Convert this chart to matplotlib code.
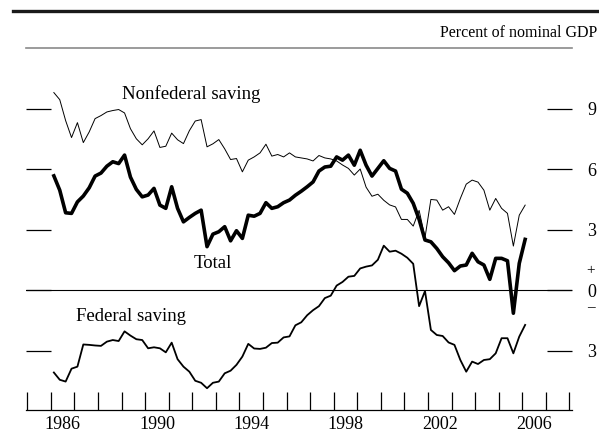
import numpy as np
import matplotlib
matplotlib.use("Agg")
import matplotlib.pyplot as plt
from matplotlib.lines import Line2D

plt.rcParams['font.family'] = ['Liberation Serif', 'DejaVu Serif']

# quarterly, 1986:Q1 - 2006:Q1, percent of nominal GDP
quarters = 1986.125 + 0.25 * np.arange(81)

nonfederal = [
    9.79, 9.44, 8.4, 7.56, 8.3, 7.31, 7.84, 8.5, 8.65, 8.83,
    8.9, 8.95, 8.78, 8.0, 7.5, 7.2, 7.5, 7.89, 7.07, 7.13,
    7.78, 7.45, 7.26, 7.9, 8.38, 8.45, 7.1, 7.25, 7.46, 7.0,
    6.47, 6.52, 5.86, 6.44, 6.6, 6.8, 7.23, 6.64, 6.72, 6.6,
    6.8, 6.6, 6.55, 6.5, 6.4, 6.67, 6.55, 6.5, 6.4, 6.2,
    6.03, 5.7, 6.0, 5.1, 4.65, 4.75, 4.45, 4.22, 4.12, 3.5,
    3.5, 3.17, 3.95, 2.6, 4.49, 4.46, 3.96, 4.13, 3.75, 4.54,
    5.25, 5.45, 5.35, 4.95, 3.96, 4.54, 4.05, 3.8, 2.18, 3.71,
    4.21,
]

total = [
    5.66, 4.95, 3.83, 3.8, 4.37, 4.66, 5.07, 5.65, 5.8, 6.14,
    6.36, 6.27, 6.69, 5.6, 4.99, 4.62, 4.71, 5.04, 4.21, 4.05,
    5.12, 4.05, 3.38, 3.6, 3.8, 3.96, 2.15, 2.77, 2.89, 3.14,
    2.44, 2.94, 2.56, 3.71, 3.66, 3.8, 4.33, 4.05, 4.13, 4.33,
    4.46, 4.7, 4.9, 5.12, 5.36, 5.9, 6.1, 6.14, 6.6, 6.44,
    6.69, 6.19, 6.93, 6.19, 5.65, 6.03, 6.41, 6.03, 5.9, 5.0,
    4.8, 4.3, 3.5, 2.48, 2.39, 2.06, 1.65, 1.35, 0.96, 1.19,
    1.24, 1.82, 1.4, 1.24, 0.53, 1.57, 1.57, 1.45, -1.15, 1.32,
    2.51,
]

federal = [
    -4.09, -4.45, -4.54, -3.9, -3.8, -2.7, -2.72, -2.75, -2.77, -2.56,
    -2.48, -2.53, -2.05, -2.26, -2.44, -2.48, -2.89, -2.84, -2.89, -3.09,
    -2.61, -3.43, -3.8, -4.05, -4.5, -4.6, -4.87, -4.6, -4.54, -4.13,
    -4.0, -3.71, -3.3, -2.67, -2.9, -2.92, -2.86, -2.63, -2.61, -2.35,
    -2.3, -1.75, -1.6, -1.25, -1.0, -0.8, -0.4, -0.28, 0.22, 0.4,
    0.66, 0.7, 1.07, 1.16, 1.22, 1.5, 2.2, 1.9, 1.95, 1.8,
    1.6, 1.3, -0.8, -0.05, -1.98, -2.23, -2.28, -2.6, -2.72, -3.47,
    -4.05, -3.55, -3.67, -3.47, -3.43, -3.14, -2.39, -2.39, -3.14, -2.31,
    -1.73,
]

year_labels = ['1986', '1990', '1994', '1998', '2002', '2006']
y_ticks = [-3, 0, 3, 6, 9]
y_tick_labels = ['3', '0', '3', '6', '9']

fig = plt.figure(figsize=(5.99, 4.33), dpi=100)
ax = fig.add_axes([0.0429, 0.0531, 0.9115, 0.836])

ax.axhline(0, color='black', lw=0.8, zorder=1)
ax.plot(quarters, nonfederal, color='black', lw=0.7, zorder=2)
ax.plot(quarters, federal, color='black', lw=1.3, zorder=3)
ax.plot(quarters, total, color='black', lw=2.6, zorder=4)

ax.set_xlim(1984.93, 2008.1)
ax.set_ylim(-5.95, 12)

for s in ['left', 'right']:
    ax.spines[s].set_visible(False)
ax.spines['top'].set_color('#8a8a8a')
ax.spines['top'].set_linewidth(1.2)
ax.spines['bottom'].set_linewidth(0.9)

# year marks at boundaries, labels centred in the year
ax.set_xticks(np.arange(1985, 2009), minor=True)
ax.set_xticks([int(y) + 0.5 for y in year_labels])
ax.set_xticklabels(year_labels)
ax.tick_params(axis='x', which='minor', direction='in', length=13, width=0.9,
               top=False, bottom=True)
ax.tick_params(axis='x', which='major', length=0, pad=4, labelsize=13)

ax.set_yticks(y_ticks)
ax.set_yticklabels(y_tick_labels)
ax.tick_params(axis='y', direction='in', length=18, width=0.9,
               left=True, right=True, labelleft=False, labelright=True,
               pad=11, labelsize=13)
for lab in ax.get_yticklabels():
    lab.set_horizontalalignment('left')

tr = ax.get_yaxis_transform()
ax.text(1.0275, 0.95, '+', transform=tr, ha='left', va='center', fontsize=11)
ax.text(1.0275, -0.85, '\u2013', transform=tr, ha='left', va='center', fontsize=11)

ax.text(1991.97, 9.74, 'Nonfederal saving', ha='center', va='center', fontsize=13.5)
ax.text(1992.88, 1.3, 'Total', ha='center', va='center', fontsize=13.5)
ax.text(1989.41, -1.29, 'Federal saving', ha='center', va='center', fontsize=13.5)

fig.text(0.997, 0.924, 'Percent of nominal GDP', ha='right', va='center', fontsize=11.5)
fig.add_artist(Line2D([13 / 599, 1.0], [1 - 11 / 433, 1 - 11 / 433],
                      transform=fig.transFigure, color='#1a1a1a', lw=2.4))

fig.savefig('out.png', dpi=100)
